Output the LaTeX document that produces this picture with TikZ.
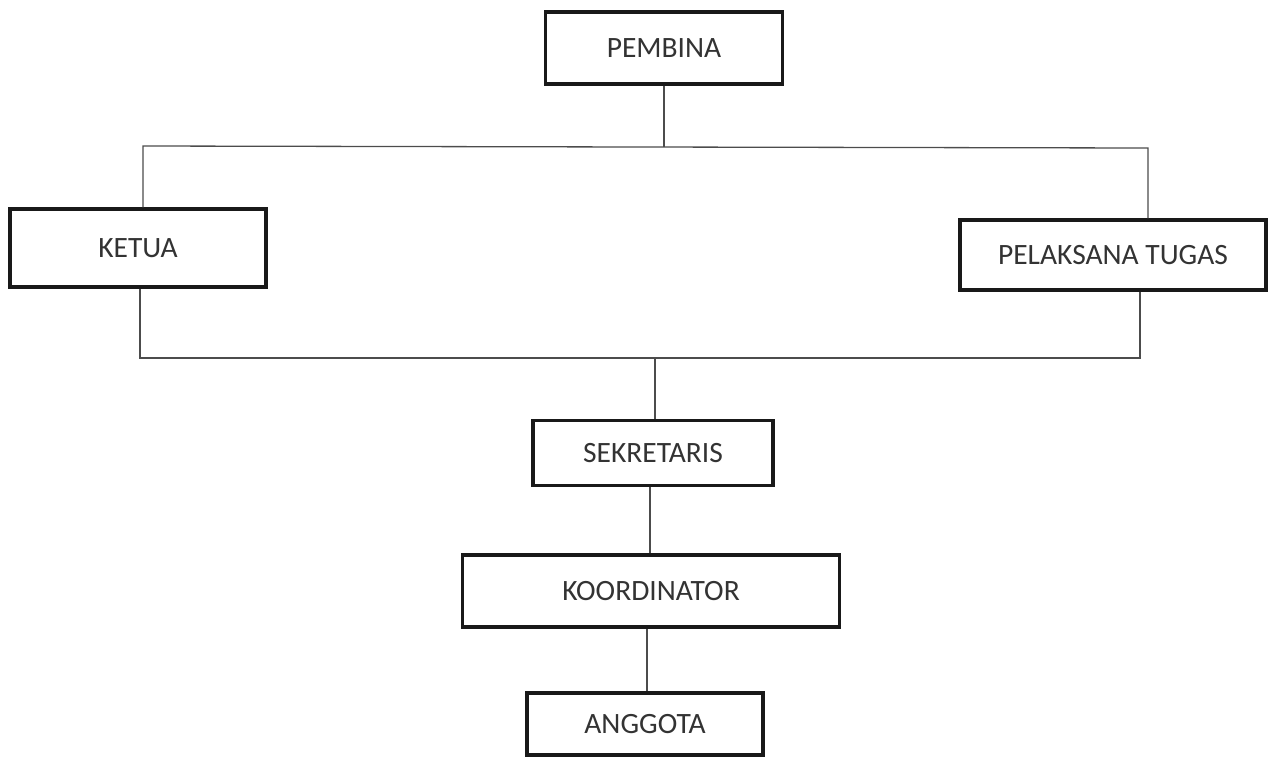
\documentclass[tikz,border=0pt]{standalone}
\usepackage{fontspec}
\setmainfont{Carlito}
\begin{document}
\begin{tikzpicture}[x=1pt,y=-1pt,
  box/.style={draw=black!90, line width=3.5pt, rectangle, inner sep=0pt, font=\fontsize{29.5}{32}\selectfont, text=black!80},
  link/.style={draw=black!70, line width=1.3pt}]
\useasboundingbox (0,0) rectangle (1269,756);
\node[box, minimum width=237pt, minimum height=72pt] (pembina) at (664,48) {PEMBINA};
\node[box, minimum width=256pt, minimum height=78pt] (ketua) at (138,248) {KETUA};
\node[box, minimum width=306pt, minimum height=70pt] (plt) at (1113,255) {PELAKSANA TUGAS};
\node[box, minimum width=240pt, minimum height=65pt] (sek) at (653,453) {SEKRETARIS};
\node[box, minimum width=377pt, minimum height=72pt] (koor) at (651,591) {KOORDINATOR};
\node[box, minimum width=236pt, minimum height=62pt] (ang) at (645,724) {ANGGOTA};
\coordinate (tl) at (143,146);
\coordinate (tr) at (1148,148);
\coordinate (bl) at (140,358);
\coordinate (br) at (1140,358);
\coordinate (bm) at (655,358);
\draw[link] (pembina.south) -- (664,147);
\draw[link] (ketua.north -| tl) -- (tl) -- (tr) -- (plt.north -| tr);
\draw[link] (ketua.south -| bl) -- (bl) -- (br) -- (plt.south -| br);
\draw[link] (bm) -- (sek.north -| bm);
\draw[link] (sek.south -| 650,0) -- (koor.north -| 650,0);
\draw[link] (koor.south -| 647,0) -- (ang.north -| 647,0);
\end{tikzpicture}
\end{document}
